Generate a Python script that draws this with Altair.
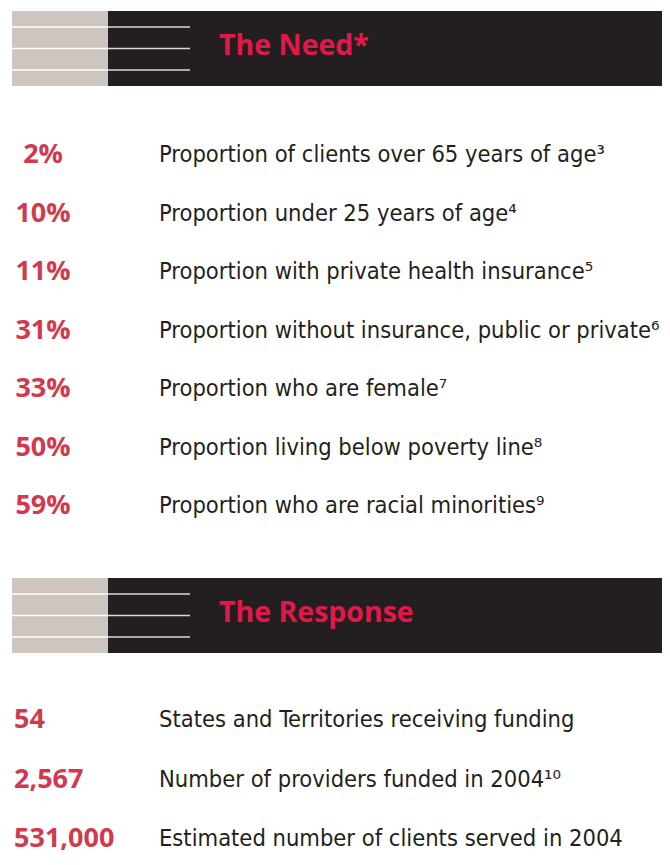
import altair as alt
import pandas as pd

# ---- data ----
section_titles = ["The Need*", "The Response"]

need_values = ["2%", "10%", "11%", "31%", "33%", "50%", "59%"]
need_labels = [
    "Proportion of clients over 65 years of age",
    "Proportion under 25 years of age",
    "Proportion with private health insurance",
    "Proportion without insurance, public or private",
    "Proportion who are female",
    "Proportion living below poverty line",
    "Proportion who are racial minorities",
]
need_notes = ["3", "4", "5", "6", "7", "8", "9"]

response_values = ["54", "2,567", "531,000"]
response_labels = [
    "States and Territories receiving funding",
    "Number of providers funded in 2004",
    "Estimated number of clients served in 2004",
]
response_notes = ["", "10", ""]

# ---- helpers ----
SUP = str.maketrans("0123456789", "⁰¹²³⁴⁵⁶⁷⁸⁹")


def with_note(label, note):
    return label + note.translate(SUP)


need_df = pd.DataFrame({
    "i": list(range(len(need_values))),
    "value": need_values,
    "label": [with_note(l, n) for l, n in zip(need_labels, need_notes)],
})
resp_df = pd.DataFrame({
    "i": list(range(len(response_values))),
    "value": response_values,
    "label": [with_note(l, n) for l, n in zip(response_labels, response_notes)],
})

W, H = 654, 849
GRAY = "#cdc5bf"
DARK = "#231f20"
TITLE_RED = "#e2184a"
VALUE_RED = "#d13a4e"
TEXT = "#231f20"
LABEL_FONT = "Liberation Sans Narrow, DejaVu Sans Condensed, sans-serif"

anchor = pd.DataFrame({"k": [0]})

layers = []

# headers
header_tops = [3, 570]
for top, title in zip(header_tops, section_titles):
    layers.append(
        alt.Chart(anchor).mark_rect(color=GRAY).encode(
            x=alt.value(4), x2=alt.value(100), y=alt.value(top), y2=alt.value(top + 75)
        )
    )
    layers.append(
        alt.Chart(anchor).mark_rect(color=DARK).encode(
            x=alt.value(100), x2=alt.value(W), y=alt.value(top), y2=alt.value(top + 75)
        )
    )
    for off in (16, 37.5, 59):
        layers.append(
            alt.Chart(anchor).mark_rule(color="#ffffff", strokeWidth=1.5).encode(
                x=alt.value(4), x2=alt.value(100), y=alt.value(top + off)
            )
        )
        layers.append(
            alt.Chart(anchor).mark_rule(color="#d9d9d9", strokeWidth=1.5).encode(
                x=alt.value(100), x2=alt.value(182), y=alt.value(top + off)
            )
        )
    layers.append(
        alt.Chart(pd.DataFrame({"t": [title]})).mark_text(
            align="left", baseline="alphabetic", font="Open Sans", fontWeight="bold",
            fontSize=28.5, color=TITLE_RED,
        ).encode(x=alt.value(211), y=alt.value(top + 43.5), text="t:N")
    )

need_y = alt.Y("i:O", scale=alt.Scale(type="point", range=[147, 498], padding=0), axis=None)
resp_y = alt.Y("i:O", scale=alt.Scale(type="point", range=[712, 831], padding=0), axis=None)

layers.append(
    alt.Chart(need_df).mark_text(
        align="center", baseline="middle", font="Open Sans", fontWeight="bold",
        fontSize=27, color=VALUE_RED,
    ).encode(x=alt.value(35), y=need_y, text="value:N")
)
layers.append(
    alt.Chart(need_df).mark_text(
        align="left", baseline="middle", font=LABEL_FONT,
        fontSize=23.5, color=TEXT,
    ).encode(x=alt.value(151), y=need_y, text="label:N")
)
layers.append(
    alt.Chart(resp_df).mark_text(
        align="left", baseline="middle", font="Open Sans", fontWeight="bold",
        fontSize=27, color=VALUE_RED,
    ).encode(x=alt.value(6), y=resp_y, text="value:N")
)
layers.append(
    alt.Chart(resp_df).mark_text(
        align="left", baseline="middle", font=LABEL_FONT,
        fontSize=23.5, color=TEXT,
    ).encode(x=alt.value(151), y=resp_y, text="label:N")
)

chart = alt.layer(*layers).resolve_scale(y="independent").properties(
    width=W, height=H, padding=0, autosize=alt.AutoSizeParams(type="none"),
    background="#ffffff",
).configure_view(stroke=None)

chart.save("out.html", embed_options={"renderer": "svg", "actions": False})
